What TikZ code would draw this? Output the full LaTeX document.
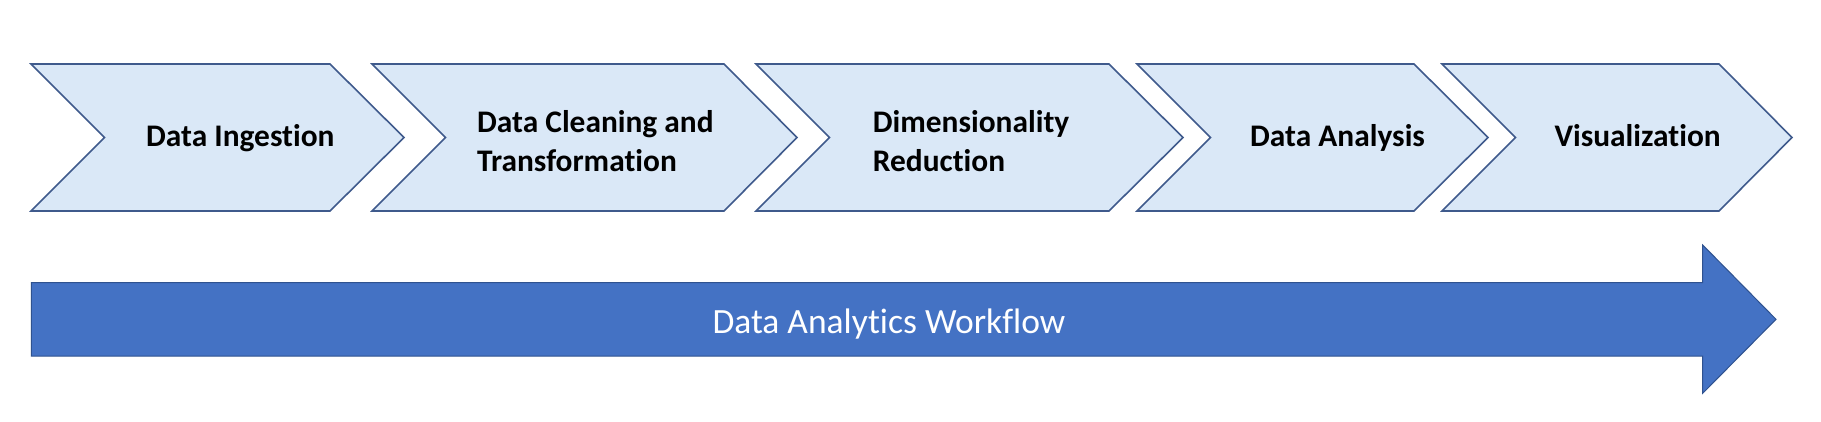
\documentclass[tikz,border=0pt]{standalone}
\usepackage{fontspec}
\setmainfont[RawFeature={-liga}]{Carlito}
\definecolor{chevfill}{HTML}{DAE8F7}
\definecolor{chevline}{HTML}{3F5A8C}
\definecolor{arrfill}{HTML}{4472C4}
\definecolor{arrline}{HTML}{2F528F}
\tikzset{
  chev/.style={fill=chevfill, draw=chevline, line width=1.6pt, line join=miter},
  steplabel/.style={font=\fontsize{31.4}{39}\selectfont\bfseries, inner sep=0pt, anchor=base west, align=left, text=black},
  flowlabel/.style={font=\fontsize{35.5}{43}\selectfont, inner sep=0pt, anchor=base west, text=white}
}
\newcommand{\chevpath}[3]{%
  \draw[chev] (#1,64) -- (#2,64) -- (#3,137.5) -- (#2,211) -- (#1,211) -- ({#1+73.5},137.5) -- cycle;}
\begin{document}
\begin{tikzpicture}[x=1pt,y=-1pt]
\useasboundingbox (0,0) rectangle (1821,421);
\fill[white] (0,0) rectangle (1821,421);
\chevpath{31}{330}{404}
\chevpath{372}{724}{797}
\chevpath{756}{1109}{1183}
\chevpath{1137}{1414}{1488}
\chevpath{1442}{1719}{1792}
\node[steplabel] (s1) at (146,146) {Data Ingestion};
\node[steplabel] (s2) at (477,132.7) {Data Cleaning and};
\node[steplabel] (s2b) at (477,171.7) {Transformation};
\node[steplabel] (s3) at (872.7,132.7) {Dimensionality};
\node[steplabel] (s3b) at (872.7,171.7) {Reduction};
\node[steplabel] (s4) at (1250,146) {Data Analysis};
\node[steplabel] (s5) at (1554.3,146) {Visualization};
\draw[fill=arrfill, draw=arrline, line width=1pt, line join=miter]
  (31.3,282.7) -- (1702.7,282.7) -- (1702.7,245) -- (1776,319.3) -- (1702.7,393.3) -- (1702.7,356) -- (31.3,356) -- cycle;
\node[flowlabel] (flow) at (712.3,333.3) {Data Analytics Workflow};
\end{tikzpicture}
\end{document}
